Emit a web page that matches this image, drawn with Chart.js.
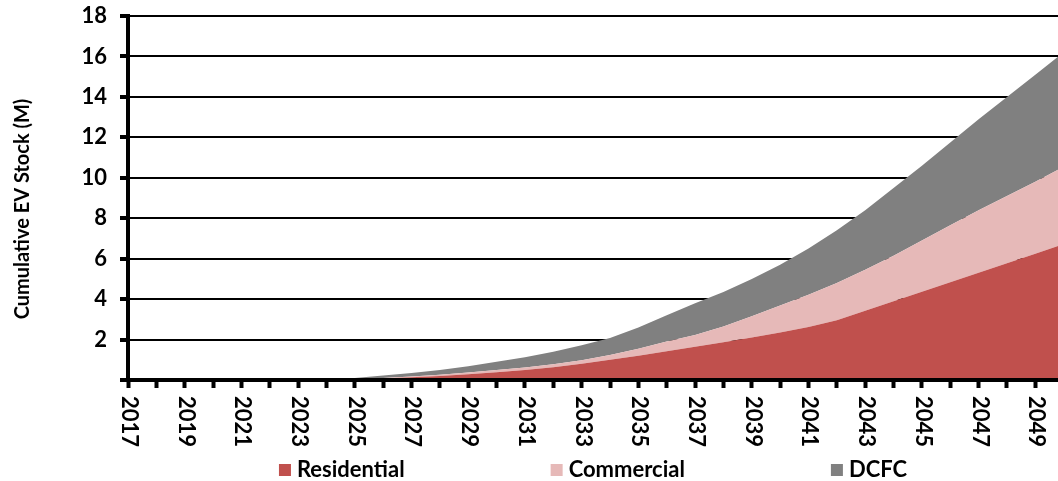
<!DOCTYPE html>
<html>
<head>
<meta charset="utf-8">
<script src="https://cdn.jsdelivr.net/npm/chart.js@4"></script>
<style>
  html, body { margin: 0; padding: 0; background: #fff; }
  #wrap { width: 1058px; height: 481px; }
</style>
</head>
<body>
<div id="wrap"><canvas id="chart" width="1058" height="481"></canvas></div>
<script>
// ── Data (millions of EVs) ───────────────────────────────────────
const YEARS = [
  2017, 2018, 2019, 2020, 2021, 2022, 2023, 2024, 2025, 2026, 2027, 2028,
  2029, 2030, 2031, 2032, 2033, 2034, 2035, 2036, 2037, 2038, 2039, 2040,
  2041, 2042, 2043, 2044, 2045, 2046, 2047, 2048, 2049, 2050,
];
const RESIDENTIAL = [
  0, 0, 0, 0, 0, 0, 0, 0, 0.03, 0.08, 0.13, 0.2,
  0.28, 0.38, 0.5, 0.63, 0.8, 1.0, 1.2, 1.42, 1.65, 1.87, 2.1, 2.35,
  2.62, 2.95, 3.42, 3.89, 4.36, 4.83, 5.3, 5.77, 6.24, 6.72,
];
const COMMERCIAL = [
  0, 0, 0, 0, 0, 0, 0, 0, 0.01, 0.02, 0.04, 0.06,
  0.09, 0.11, 0.12, 0.15, 0.18, 0.24, 0.35, 0.48, 0.57, 0.78, 1.05, 1.33,
  1.6, 1.85, 2.03, 2.26, 2.54, 2.82, 3.1, 3.33, 3.56, 3.83,
];
const DCFC = [
  0, 0, 0, 0, 0, 0, 0, 0, 0.06, 0.12, 0.18, 0.24,
  0.31, 0.41, 0.51, 0.62, 0.74, 0.84, 1.05, 1.3, 1.58, 1.7, 1.85, 2.02,
  2.28, 2.6, 2.95, 3.35, 3.7, 4.1, 4.5, 4.9, 5.3, 5.65,
];
const X_TICK_LABELS = [
  "2017", "2019", "2021", "2023", "2025", "2027", "2029", "2031", "2033",
  "2035", "2037", "2039", "2041", "2043", "2045", "2047", "2049",
];
const SERIES_NAMES = ["Residential", "Commercial", "DCFC"];
const Y_TITLE = "Cumulative EV Stock (M)";

// ── Style ─────────────────────────────────────────────────────────
const COLORS = ["#C0504D", "#E6B9B8", "#808080"];
const FONT = 'Lato, "Open Sans", sans-serif';

function toPoints(values) {
  return YEARS.map((yr, i) => ({ x: yr, y: values[i] }));
}

// x labels run top-to-bottom, plus the y title and legend
const extras = {
  id: "extras",
  afterDraw(chart) {
    const { ctx, chartArea, scales } = chart;
    ctx.save();
    ctx.fillStyle = "#000";

    // rotated year labels
    ctx.font = "bold 22px " + FONT;
    ctx.textAlign = "left";
    ctx.textBaseline = "middle";
    X_TICK_LABELS.forEach((lbl) => {
      const px = scales.x.getPixelForValue(Number(lbl));
      ctx.save();
      ctx.translate(px + 1, 396);
      ctx.rotate(Math.PI / 2);
      ctx.fillText(lbl, 0, 0);
      ctx.restore();
    });

    // y axis title
    ctx.font = "bold 20px " + FONT;
    ctx.textAlign = "center";
    ctx.save();
    ctx.translate(23, 209);
    ctx.rotate(-Math.PI / 2);
    ctx.fillText(Y_TITLE, 0, 0);
    ctx.restore();

    // legend
    ctx.font = "bold 22px " + FONT;
    ctx.textAlign = "left";
    const box = 12, boxGap = 6, itemGap = 146;
    const widths = chart.data.datasets.map((d) => box + boxGap + ctx.measureText(d.label).width);
    const total = widths.reduce((a, b) => a + b, 0) + itemGap * (widths.length - 1);
    let x = (chartArea.left + chartArea.right) / 2 - total / 2;
    const cy = 470;
    chart.data.datasets.forEach((d, i) => {
      ctx.fillStyle = d.backgroundColor;
      ctx.fillRect(x, cy - box / 2, box, box);
      ctx.fillStyle = "#000";
      ctx.fillText(d.label, x + box + boxGap, cy);
      x += widths[i] + itemGap;
    });
    ctx.restore();
  },
};

const datasets = [RESIDENTIAL, COMMERCIAL, DCFC].map((vals, i) => ({
  label: SERIES_NAMES[i],
  data: toPoints(vals),
  backgroundColor: COLORS[i],
  borderWidth: 0,
  pointRadius: 0,
  tension: 0,
  fill: i === 0 ? "origin" : "-1",
}));

new Chart(document.getElementById("chart"), {
  type: "line",
  data: { datasets },
  plugins: [extras],
  options: {
    responsive: false,
    animation: false,
    layout: { padding: { top: 16, left: 0, right: 0, bottom: 0 } },
    plugins: { legend: { display: false }, tooltip: { enabled: false } },
    scales: {
      x: {
        type: "linear",
        min: 2017,
        max: 2049.8,
        afterFit: (s) => { s.height = 101; s.paddingLeft = 0; s.paddingRight = 0; },
        ticks: { display: false, stepSize: 1, autoSkip: false, includeBounds: false },
        grid: {
          drawOnChartArea: false,
          drawTicks: true,
          tickLength: 8,
          tickWidth: 4,
          tickColor: "#000",
        },
        border: { display: true, color: "#000", width: 4, z: 1 },
      },
      y: {
        stacked: true,
        min: 0,
        max: 18,
        afterFit: (s) => { s.width = 128; s.paddingTop = 0; s.paddingBottom = 0; },
        ticks: {
          stepSize: 2,
          padding: 13,
          color: "#000",
          font: { family: FONT, size: 22, weight: "bold" },
          callback: (v) => (v === 0 ? "" : v),
        },
        grid: {
          color: "#000",
          lineWidth: 2,
          drawTicks: true,
          tickLength: 8,
          tickWidth: 4,
          tickColor: "#000",
        },
        border: { display: true, color: "#000", width: 4, z: 1 },
      },
    },
  },
});
</script>
</body>
</html>
